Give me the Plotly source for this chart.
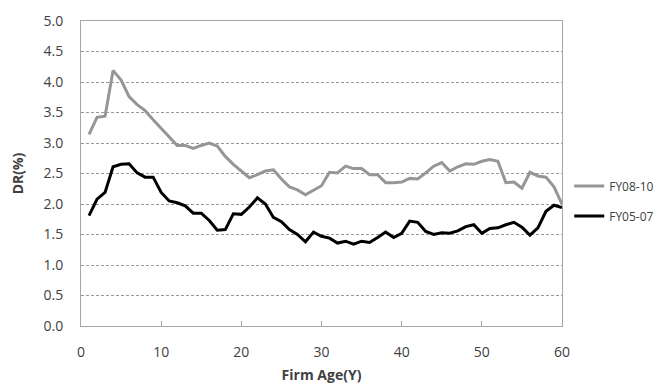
import plotly.graph_objects as go

# Firm age in years
firm_age = list(range(1, 61))

# Default rate (%) by firm age, FY08-10 cohort
dr_fy08_10 = [3.14, 3.42, 3.44, 4.19, 4.03, 3.76, 3.63, 3.53, 3.38, 3.24,
              3.09, 2.96, 2.96, 2.91, 2.96, 3.00, 2.95, 2.78, 2.65, 2.54,
              2.43, 2.48, 2.54, 2.56, 2.41, 2.28, 2.23, 2.15, 2.23, 2.30,
              2.52, 2.51, 2.62, 2.58, 2.58, 2.48, 2.48, 2.35, 2.35, 2.36,
              2.42, 2.41, 2.51, 2.62, 2.68, 2.54, 2.61, 2.66, 2.65, 2.70,
              2.73, 2.70, 2.35, 2.36, 2.26, 2.52, 2.46, 2.44, 2.28, 2.00]

# Default rate (%) by firm age, FY05-07 cohort
dr_fy05_07 = [1.81, 2.08, 2.19, 2.61, 2.65, 2.66, 2.51, 2.44, 2.44, 2.19,
              2.05, 2.02, 1.97, 1.85, 1.85, 1.73, 1.57, 1.58, 1.84, 1.83,
              1.95, 2.10, 2.00, 1.78, 1.71, 1.58, 1.50, 1.38, 1.54, 1.47,
              1.44, 1.36, 1.39, 1.34, 1.39, 1.37, 1.45, 1.54, 1.45, 1.52,
              1.72, 1.70, 1.55, 1.50, 1.53, 1.52, 1.56, 1.63, 1.66, 1.52,
              1.60, 1.61, 1.66, 1.70, 1.62, 1.49, 1.61, 1.88, 1.98, 1.94]

x_ticks = [0, 10, 20, 30, 40, 50, 60]
y_ticks = [0.0, 0.5, 1.0, 1.5, 2.0, 2.5, 3.0, 3.5, 4.0, 4.5, 5.0]

FONT = "Open Sans"
TEXT = "#404040"
FRAME = "#a6a6a6"

fig = go.Figure()
fig.add_trace(go.Scatter(
    x=firm_age, y=dr_fy08_10, name="FY08-10", mode="lines",
    line=dict(color="#969696", width=3), legendgroup="a"))
fig.add_trace(go.Scatter(
    x=firm_age, y=dr_fy05_07, name="FY05-07", mode="lines",
    line=dict(color="#000000", width=3), legendgroup="b"))

fig.update_layout(
    width=663, height=388,
    margin=dict(l=81, r=101, t=21, b=62, autoexpand=False),
    paper_bgcolor="white", plot_bgcolor="white",
    font=dict(family=FONT, size=13, color=TEXT),
    showlegend=True,
    legend=dict(x=1.015, xanchor="left", xref="paper", y=0.41, yanchor="middle",
                traceorder="grouped", tracegroupgap=11,
                font=dict(family=FONT, size=12, color=TEXT),
                bgcolor="rgba(0,0,0,0)", itemwidth=30),
    xaxis=dict(range=[0, 60], tickvals=x_ticks, ticktext=[str(v) for v in x_ticks],
               showgrid=False, zeroline=False,
               showline=True, linecolor=FRAME, linewidth=1, mirror=True,
               ticks="inside", ticklen=5, tickcolor=FRAME, ticklabelstandoff=13,
               tickfont=dict(family=FONT, size=14, color=TEXT),
               title=dict(text="<b>Firm Age(Y)</b>", standoff=10,
                          font=dict(family=FONT, size=14, color=TEXT))),
    yaxis=dict(range=[0, 5], tickvals=y_ticks, ticktext=[f"{v:.1f}" for v in y_ticks],
               showgrid=True, gridcolor="#9a9a9a", griddash="3px,2px", gridwidth=1,
               zeroline=False,
               showline=True, linecolor=FRAME, linewidth=1, mirror=True,
               ticks="", ticklabelstandoff=14,
               tickfont=dict(family=FONT, size=14, color=TEXT),
               title=dict(text="<b>DR(%)</b>", standoff=16,
                          font=dict(family=FONT, size=14, color=TEXT))),
)

fig.write_html("out.html")
